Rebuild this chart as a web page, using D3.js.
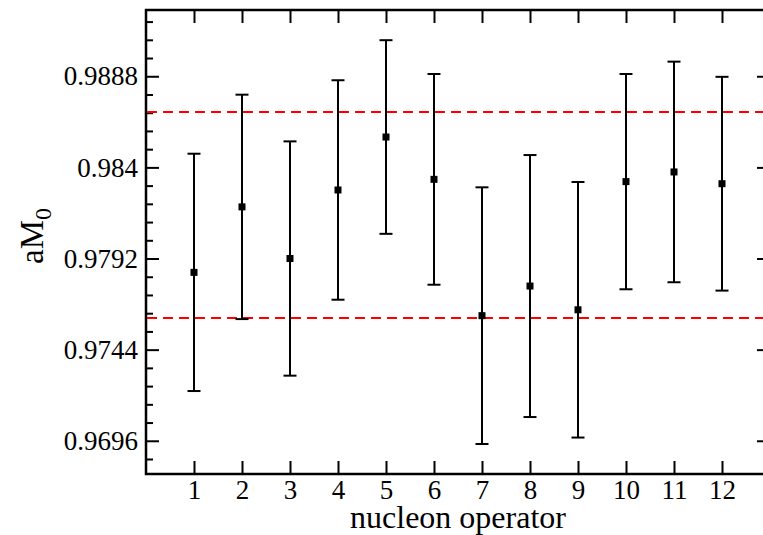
<!DOCTYPE html>
<html>
<head>
<meta charset="utf-8">
<script src="https://cdn.jsdelivr.net/npm/d3@7"></script>
<style>
  html, body { margin: 0; padding: 0; background: #fff; }
  svg { display: block; }
  text { font-family: "Liberation Serif", "Times New Roman", serif; fill: #000; }
</style>
</head>
<body>
<svg id="chart" width="763" height="535"></svg>
<script>
// ---- data ----
const operators = [1, 2, 3, 4, 5, 6, 7, 8, 9, 10, 11, 12];
const values = [0.97847, 0.98192, 0.97920, 0.98281, 0.98560, 0.98337, 0.97619, 0.97775, 0.97650, 0.98325, 0.98376, 0.98314];
const errors = [0.00625, 0.00591, 0.00617, 0.00578, 0.00510, 0.00555, 0.00676, 0.00690, 0.00673, 0.00567, 0.00581, 0.00563];
const bandLines = [0.98692, 0.97607];
const yTickValues = [0.9696, 0.9744, 0.9792, 0.984, 0.9888];
const yTickLabels = ["0.9696", "0.9744", "0.9792", "0.984", "0.9888"];
const xTickValues = [1, 2, 3, 4, 5, 6, 7, 8, 9, 10, 11, 12];
const yMinorStep = 0.00096;
const xLabel = "nucleon operator";

// ---- layout ----
const svg = d3.select("#chart");
const mLeft = 146, mRight = 770, mTop = 10, mBottom = 474;
const FONT = '"Liberation Serif", "Times New Roman", serif';

const x = d3.scaleLinear().domain([0, 13]).range([mLeft, mRight]);
const y = d3.scaleLinear().domain([0.96785, 0.99229]).range([mBottom, mTop]);

const yMinor = d3.range(0.96864, 0.9920, yMinorStep)
  .filter(v => !yTickValues.some(t => Math.abs(t - v) < 1e-6));

function styleAxis(g) {
  g.attr("font-family", FONT).attr("font-size", 27);
  g.select(".domain").remove();
  g.selectAll(".tick line").attr("stroke", "#000").attr("stroke-width", 2);
  g.selectAll(".tick text").attr("fill", "#000")
    .style("font-family", FONT).style("font-size", "27px");
}

// left axis major
svg.append("g").attr("transform", `translate(${mLeft},0)`)
  .call(d3.axisLeft(y).tickValues(yTickValues).tickSize(-13).tickPadding(8)
    .tickFormat((d, i) => yTickLabels[i]))
  .call(styleAxis);
// left axis minor
svg.append("g").attr("transform", `translate(${mLeft},0)`)
  .call(d3.axisLeft(y).tickValues(yMinor).tickSize(-7).tickFormat(""))
  .call(styleAxis);
// right axis major/minor
svg.append("g").attr("transform", `translate(${mRight},0)`)
  .call(d3.axisRight(y).tickValues(yTickValues).tickSize(-13).tickFormat(""))
  .call(styleAxis);
svg.append("g").attr("transform", `translate(${mRight},0)`)
  .call(d3.axisRight(y).tickValues(yMinor).tickSize(-7).tickFormat(""))
  .call(styleAxis);
// bottom axis
svg.append("g").attr("transform", `translate(0,${mBottom})`)
  .call(d3.axisBottom(x).tickValues(xTickValues).tickSize(-13).tickPadding(6).tickFormat(d3.format("d")))
  .call(styleAxis);
// top axis
svg.append("g").attr("transform", `translate(0,${mTop})`)
  .call(d3.axisTop(x).tickValues(xTickValues).tickSize(-13).tickFormat(""))
  .call(styleAxis);

// frame
svg.append("rect")
  .attr("x", mLeft).attr("y", mTop)
  .attr("width", mRight - mLeft).attr("height", mBottom - mTop)
  .attr("fill", "none").attr("stroke", "#000").attr("stroke-width", 2.5);

// dashed reference lines
svg.append("g").selectAll("line").data(bandLines).join("line")
  .attr("x1", mLeft + 1).attr("x2", mRight)
  .attr("y1", d => y(d)).attr("y2", d => y(d))
  .attr("stroke", "#ff0000").attr("stroke-width", 2)
  .attr("stroke-dasharray", "10,6");

// error bars
const pts = operators.map((o, i) => ({ o, v: values[i], e: errors[i] }));
const eb = svg.append("g").attr("stroke", "#000").attr("stroke-width", 2);
eb.selectAll("line.v").data(pts).join("line").attr("class", "v")
  .attr("x1", d => x(d.o)).attr("x2", d => x(d.o))
  .attr("y1", d => y(d.v - d.e)).attr("y2", d => y(d.v + d.e));
eb.selectAll("line.t").data(pts).join("line").attr("class", "t")
  .attr("x1", d => x(d.o) - 6.5).attr("x2", d => x(d.o) + 6.5)
  .attr("y1", d => y(d.v + d.e)).attr("y2", d => y(d.v + d.e));
eb.selectAll("line.b").data(pts).join("line").attr("class", "b")
  .attr("x1", d => x(d.o) - 6.5).attr("x2", d => x(d.o) + 6.5)
  .attr("y1", d => y(d.v - d.e)).attr("y2", d => y(d.v - d.e));

// markers
svg.append("g").selectAll("rect").data(pts).join("rect")
  .attr("x", d => x(d.o) - 3.5).attr("y", d => y(d.v) - 3.5)
  .attr("width", 7).attr("height", 7).attr("fill", "#000");

// axis labels
svg.append("text")
  .attr("x", 458).attr("y", 528)
  .attr("text-anchor", "middle")
  .style("font-family", FONT)
  .style("font-size", "32px")
  .text(xLabel);

const yl = svg.append("text")
  .attr("transform", "translate(43,236) rotate(-90)")
  .attr("text-anchor", "middle")
  .style("font-family", FONT)
  .style("font-size", "33px");
yl.append("tspan").text("aM");
yl.append("tspan").attr("dy", 8).style("font-size", "24px").text("0");
</script>
</body>
</html>
